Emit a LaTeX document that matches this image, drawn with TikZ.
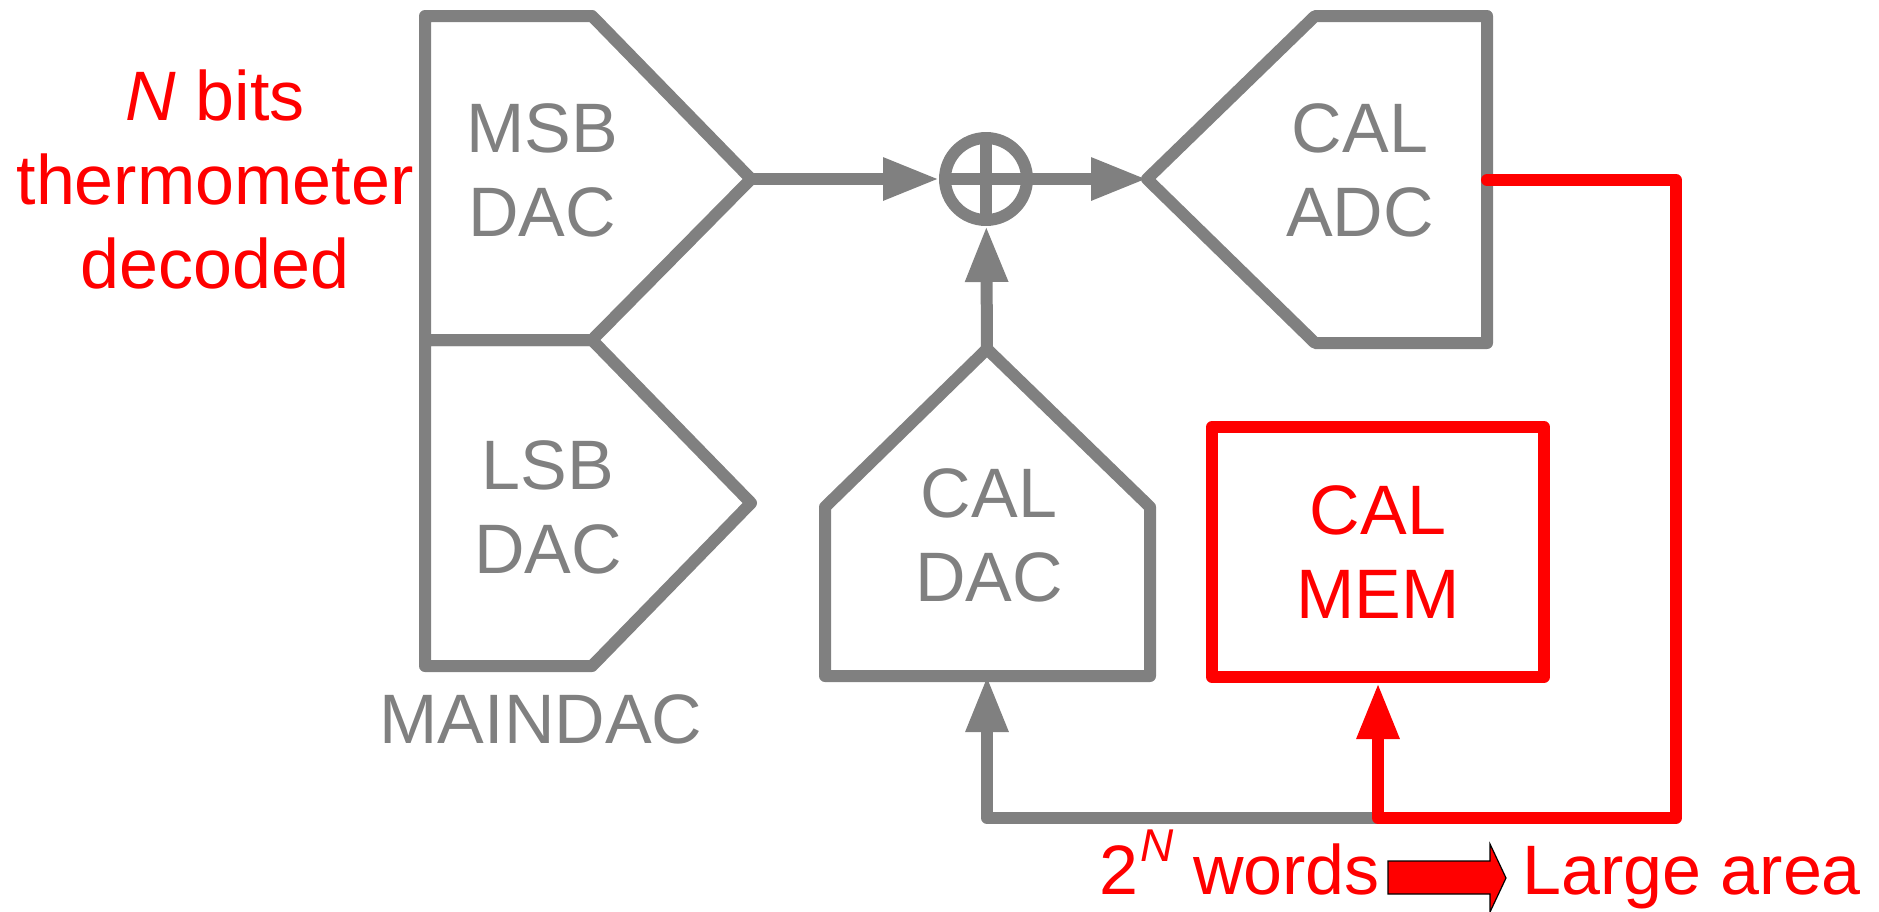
\documentclass[tikz,border=0pt]{standalone}
\usepackage{fontspec}
\setmainfont{Liberation Sans}
\usetikzlibrary{arrows.meta}
\definecolor{wire}{RGB}{128,128,128}
\definecolor{hot}{RGB}{255,0,0}
\begin{document}
\begin{tikzpicture}[x=0.5pt,y=-0.5pt,
  line cap=round, line join=round,
  blk/.style={draw=wire,line width=6pt},
  lbl/.style={text=wire,align=center,inner sep=0pt,
    font=\fontsize{35}{42}\selectfont},
  rlbl/.style={lbl,text=hot},
  tip/.style={-{Triangle[length=28pt,width=20pt]}},
  flow/.style={blk,tip},
  hotflow/.style={draw=hot,line width=6pt,tip}]
\useasboundingbox (0,0) rectangle (1879,911);
\clip (0,0) rectangle (1879,911);

% main DAC: MSB and LSB halves sharing the left edge
\draw[blk] (425,16) -- (592,16) -- (751,179) -- (592,340) -- (425,340) -- cycle;
\draw[blk] (425,340) -- (592,340) -- (751,503) -- (592,666) -- (425,666) -- cycle;
\coordinate (msbtip) at (751,179);

% calibration ADC
\draw[blk] (1147,179) -- (1315,16) -- (1487,16) -- (1487,343) -- (1315,343) -- cycle;
\coordinate (adctip) at (1147,179);
\coordinate (adcout) at (1487,180);

% calibration DAC
\draw[blk] (987,349) -- (1150,507) -- (1150,676) -- (825,676) -- (825,507) -- cycle;
\coordinate (dactop) at (987,349);
\coordinate (dacbot) at (987,676);

% summing junction with its cross
\node[circle,draw=wire,line width=6pt,minimum size=41pt,inner sep=0pt] (sum) at (986,179) {};
\draw[blk,line cap=butt] (sum.center) ++(0,-41) -- ++(0,82)
  (sum.center) ++(-41,0) -- ++(82,0);

% calibration memory
\node[draw=hot,line width=6pt,minimum width=166pt,minimum height=125pt,rlbl] (mem) at (1378,552) {CAL\\MEM};

% block labels
\node[lbl] (msbtxt) at (542,170) {MSB\\DAC};
\node[lbl] (lsbtxt) at (548,507) {LSB\\DAC};
\node[lbl] (adctxt) at (1360,170) {CAL\\ADC};
\node[lbl] (dactxt) at (989,535) {CAL\\DAC};
\node[lbl,anchor=base] (maintxt) at (541,743) {MAINDAC};
\node[rlbl] (bits) at (215,179) {\textit{N} bits\\thermometer\\decoded};

% signal path
\draw[flow] (msbtip) -- (sum);
\draw[flow] (sum) -- (adctip);
\draw[flow] (dactop) -- (sum);

% calibration loop
\coordinate (split) at (1378,818);
\coordinate (corner) at (987,818);
\coordinate (rt) at (1676,180);
\coordinate (rb) at (1676,818);
\draw[flow] (split) -- (corner) -- (dacbot);
\draw[hotflow] (adcout) -- (rt) -- (rb) -- (split) -- (mem.south);

% bottom caption
\node[rlbl,anchor=base west] (words) at (1099,894)
  {2\kern1pt\raisebox{16.5pt}{\fontsize{23}{23}\selectfont\itshape N} words};
\node[rlbl,anchor=base west] (large) at (1522,894) {Large area};
\draw[fill=hot,draw=black,line width=0.6pt,line join=miter]
  (1388,861) -- (1490,861) -- (1490,844) -- (1506,878) -- (1490,912)
  -- (1490,894) -- (1388,894) -- cycle;
\end{tikzpicture}
\end{document}
